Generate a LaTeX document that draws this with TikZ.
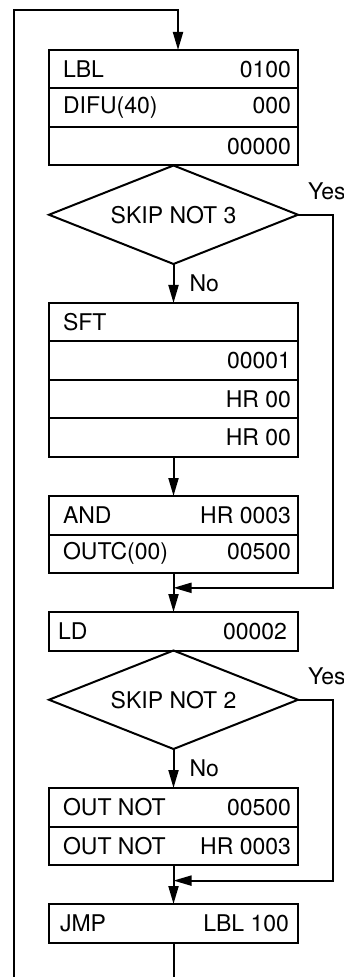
\documentclass[tikz,border=0pt]{standalone}
\usepackage{fontspec}
\setmainfont{TeX Gyre Heros}
\usetikzlibrary{shapes.geometric, arrows.meta, positioning, calc}

\newcommand{\instr}[2]{\makebox[117.5pt]{\hspace*{3.5pt}#1\hfill #2}}

\begin{document}
\begin{tikzpicture}[
    x=0.5pt, y=-0.5pt,
    node distance=19.5pt,
    line width=1pt,
    row/.style={draw, line width=1pt, outer sep=0pt, minimum height=19.25pt, minimum width=124.5pt, inner xsep=3.5pt, inner ysep=0pt, font=\fontsize{11.5}{13}\selectfont},
    skip/.style={draw, diamond, line width=1pt, outer sep=0pt, inner sep=0pt, aspect=2.5, minimum width=124.5pt, minimum height=49.25pt, font=\fontsize{11.5}{13}\selectfont},
    answer/.style={inner sep=0pt, font=\fontsize{11.5}{13}\selectfont},
    arrow/.style={line width=1pt, -{Triangle[length=9pt, width=5pt]}}
]
\useasboundingbox (0,0) rectangle (343,977);

% label and differentiate up
\node[row, anchor=north] (lbl) at (173.5,50) {\instr{LBL}{0100}};
\node[row, below=0pt of lbl] (difu) {\instr{DIFU(40)}{000}};
\node[row, below=0pt of difu] (difuout) {\instr{}{00000}};
\node[skip, below=0pt of difuout] (skip3) {SKIP NOT 3};

% shift register
\node[row, below=of skip3] (sft) {\instr{SFT}{}};
\node[row, below=0pt of sft] (sftin) {\instr{}{00001}};
\node[row, below=0pt of sftin] (sftst) {\instr{}{HR 00}};
\node[row, below=0pt of sftst] (sften) {\instr{}{HR 00}};

\node[row, below=of sften] (and) {\instr{AND}{HR 0003}};
\node[row, below=0pt of and] (outc) {\instr{OUTC(00)}{00500}};

\node[row, below=of outc] (ld) {\makebox[117.5pt]{\hspace*{1pt}LD\hfill 00002\kern2pt}};
\node[skip, below=0pt of ld] (skip2) {SKIP NOT 2};

\node[row, below=of skip2] (outn1) {\instr{OUT NOT}{00500}};
\node[row, below=0pt of outn1] (outn2) {\instr{OUT NOT}{HR 0003}};
\node[row, below=of outn2] (jmp) {\makebox[117.5pt]{\hspace*{2pt}JMP\hfill LBL 100\kern1pt}};

% connectors
\coordinate (loopbot) at (14,977);
\coordinate (looptop) at (178,10);
\coordinate (jmpend) at (jmp.south |- loopbot);
\coordinate (rail) at (333,0);
\coordinate (join3) at ($(outc.south)!0.38!(ld.north)$);
\coordinate (join2) at ($(outn2.south)!0.4!(jmp.north)$);

\draw[arrow] (loopbot) |- (looptop) -- (looptop |- lbl.north);
\draw[arrow] (skip3.south) -- (sft.north) node[answer, midway, right=7.5pt] (no3) {No};
\draw[arrow] (sften.south) -- (and.north);
\draw[arrow] (outc.south) -- (ld.north);
\draw[arrow] (skip3.east) -- (skip3.east -| rail) |- (join3);
\node[answer, anchor=base west] (yes3) at ([xshift=4.5pt, yshift=7.5pt]skip3.east) {Yes};

\draw[arrow] (skip2.south) -- (outn1.north) node[answer, midway, right=7.5pt] (no2) {No};
\draw[arrow] (outn2.south) -- (jmp.north);
\draw[arrow] (skip2.east) -- (skip2.east -| rail) |- (join2);
\node[answer, anchor=base west] (yes2) at ([xshift=4.5pt, yshift=7.5pt]skip2.east) {Yes};
\draw (jmp.south) -- (jmpend);

\end{tikzpicture}
\end{document}
